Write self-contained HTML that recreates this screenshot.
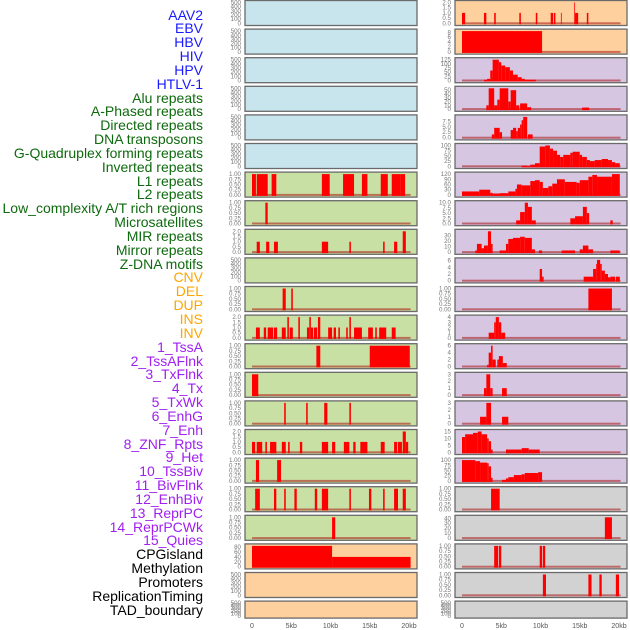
<!DOCTYPE html>
<html><head><meta charset="utf-8"><style>
body{margin:0;background:#fff;width:630px;height:630px;overflow:hidden;position:relative;font-family:"Liberation Sans",sans-serif}
.lab{position:absolute;right:427px;font-size:14px;line-height:14px;white-space:nowrap}
svg{position:absolute;left:0;top:0}
</style></head><body>
<div id="labels"></div>
<svg id="chart" width="630" height="630"></svg>
<script>
const trackLabels=["AAV2","EBV","HBV","HIV","HPV","HTLV-1","Alu repeats","A-Phased repeats","Directed repeats","DNA transposons","G-Quadruplex forming repeats","Inverted repeats","L1 repeats","L2 repeats","Low_complexity A/T rich regions","Microsatellites","MIR repeats","Mirror repeats","Z-DNA motifs","CNV","DEL","DUP","INS","INV","1_TssA","2_TssAFlnk","3_TxFlnk","4_Tx","5_TxWk","6_EnhG","7_Enh","8_ZNF_Rpts","9_Het","10_TssBiv","11_BivFlnk","12_EnhBiv","13_ReprPC","14_ReprPCWk","15_Quies","CPGisland","Methylation","Promoters","ReplicationTiming","TAD_boundary"];
const labelGroups=[6,13,5,15,5];
const xTicks=[0,5,10,15,20];
const xTickLabels=["0","5kb","10kb","15kb","20kb"];
const T500=["0","100","200","300","400","500"],T1=["0.00","0.25","0.50","0.75","1.00"],T2=["0.0","0.5","1.0","1.5","2.0"];
// left column series: [startKb,endKb,value]
const leftSeries=[[],[],[],[],[],[],
[[0,0.5,1],[0.6,2.0,1],[2.5,3.1,1],[8.9,9.9,1],[11.6,13.0,1],[14.0,14.7,1],[16.4,17.3,1],[17.8,18.9,1],[18.9,19.5,1]],
[[1.7,2.0,1]],
[[0.6,1.0,1],[1.8,2.2,1],[2.8,3.3,1],[8.9,9.7,1],[12.4,12.6,1],[16.7,16.9,1],[18.1,18.5,1],[19.2,19.6,2]],
[],
[[3.9,4.3,1],[5.0,5.2,1]],
[[0.5,1.0,1],[1.5,1.8,1],[2.0,2.7,1],[2.8,3.2,1],[3.8,4.3,1],[4.5,4.7,2],[4.8,5.2,1],[5.9,6.1,2],[7.0,7.3,1],[7.3,7.5,2],[7.5,7.8,1],[7.9,8.3,1],[8.4,8.7,2],[9.7,10.2,1],[10.4,10.7,1],[11.0,11.2,1],[12.0,12.2,1],[12.4,12.6,2],[13.0,14.0,1],[14.8,15.4,1],[15.7,15.9,1],[16.2,17.1,1],[17.8,18.3,1]],
[[8.2,8.7,1],[15.0,20.1,1]],
[[0,0.8,1]],
[[4.1,4.3,1],[6.9,7.1,1],[9.2,9.6,1],[12.4,12.6,1]],
[[0,0.4,1],[0.6,1.3,1],[1.7,1.9,1],[2.3,3.1,1],[3.8,4.3,1],[4.6,4.8,1],[6.1,6.4,1],[8.9,9.7,1],[10.2,10.6,1],[11.7,12.4,1],[12.9,13.2,1],[13.8,14.7,1],[16.4,16.9,1],[18.1,18.5,1],[18.6,19.1,1],[19.2,19.6,2],[19.6,19.9,1]],
[[0.5,0.9,1],[3.2,3.7,1]],
[[0.4,1.0,1],[2.8,3.1,1],[4.1,4.3,1],[5.4,5.7,1],[8.0,8.3,1],[8.9,9.7,1],[12.4,12.6,1],[14.9,15.2,1],[16.7,16.9,1],[18.1,18.6,1],[19.2,19.6,1]],
[[10.2,10.6,1]],
[[0,10.2,85],[10.2,20.2,40]],
[],[]];
const leftMax=[500,500,500,500,500,500,1,1,2,500,1,2,1,1,1,2,1,1,1,85,500,500];
const leftTicks=[T500,T500,T500,T500,T500,T500,T1,T1,T2,T500,T1,T2,T1,T1,T1,T2,T1,T1,T1,["0","20","40","60","80"],T500,T500];
const rightSeries=[
[[0,0.4,1],[2.8,3.1,1],[4.1,4.3,1],[7.3,7.5,1],[9.4,9.6,1],[11.3,11.6,1],[11.7,11.9,1],[12.6,12.7,1],[14.3,14.4,2],[14.4,14.8,1],[15.9,16.1,1]],
[[0,10.2,8.5]],
[[2.8,3.2,5],[3.2,3.6,10],[3.6,3.9,60],[3.9,4.7,125],[4.7,5.0,110],[5.0,5.5,90],[5.5,6.1,80],[6.1,6.5,60],[6.5,7.1,35],[7.1,7.6,20],[7.6,8.0,10],[8.0,9.4,5]],
[[3.1,3.4,10],[3.4,4.1,55],[4.1,4.5,10],[4.5,4.8,25],[4.8,5.9,55],[5.9,6.2,20],[6.2,6.9,50],[6.9,7.3,10],[7.4,8.3,15],[8.3,8.8,5],[15.3,16.2,4]],
[[3.8,4.1,1.5],[4.1,4.8,4.5],[4.8,5.1,2.5],[6.2,6.5,3.5],[6.5,6.9,4.5],[6.9,7.1,3],[7.1,7.4,4.5],[7.4,7.6,6],[7.6,7.8,8],[7.8,8.3,9.5],[8.4,9.0,1.5]],
[[7.6,8.3,3],[8.3,8.7,1],[8.7,9.3,8],[9.3,9.9,15],[9.9,10.6,95],[10.6,11.2,100],[11.2,11.6,85],[11.6,12.1,75],[12.1,12.5,55],[12.5,12.9,45],[12.9,13.8,55],[13.8,14.1,65],[14.1,15.0,70],[15.0,15.3,55],[15.3,15.9,45],[15.9,16.3,30],[16.3,16.9,25],[16.9,17.8,30],[17.8,18.6,35],[18.6,19.1,30],[19.1,19.5,20],[19.5,20.1,15]],
[[0,2.2,20],[2.2,3.6,30],[3.6,3.9,12],[3.9,4.8,8],[4.8,5.9,10],[5.9,6.8,20],[6.8,7.0,35],[7.0,7.6,60],[7.6,8.7,55],[8.7,9.3,80],[9.3,9.9,85],[9.9,10.3,75],[10.3,11.0,40],[11.0,11.5,50],[11.5,12.1,65],[12.1,13.1,90],[13.1,14.6,75],[14.6,15.0,70],[15.0,16.1,85],[16.1,16.6,105],[16.6,17.2,115],[17.2,19.1,105],[19.1,20.1,120]],
[[6.9,7.4,1.5],[7.4,8.0,5.5],[8.0,8.4,10],[8.4,8.9,8],[8.9,9.4,1.5],[13.8,14.4,2.5],[14.4,15.4,3.5],[15.4,15.9,8],[15.9,16.2,5],[18.9,19.2,1.5]],
[[1.7,1.9,3],[1.9,2.5,15],[2.5,2.8,7],[2.8,3.3,12],[3.3,3.7,38],[3.7,3.9,15],[4.8,5.6,3],[5.6,5.9,15],[5.9,6.5,24],[6.5,7.4,26],[7.4,8.0,28],[8.0,8.9,26],[8.9,9.3,5],[9.8,10.2,3],[12.7,14.4,3],[15.0,15.4,5],[15.4,16.1,12],[16.1,16.7,5],[18.9,20.1,3]],
[[9.9,10.2,3.5],[10.2,10.4,1.2],[15.5,16.7,1.2],[16.7,17.1,3.5],[17.1,17.2,5],[17.2,17.6,6.2],[17.6,17.8,5],[17.8,18.2,3],[18.2,18.6,2],[18.6,18.9,1],[18.9,19.5,1.2],[19.6,20.1,1.2]],
[[16.1,19.1,1]],
[[3.4,4.1,1],[4.1,4.3,3],[4.3,4.7,4],[4.7,5.0,3],[5.0,5.5,1]],
[[3.2,3.4,0.5],[3.4,3.7,4],[3.7,3.9,6],[3.9,4.3,2],[4.5,4.7,2],[4.7,5.2,3],[5.2,5.7,1]],
[[2.8,3.1,1],[3.1,3.6,3],[3.6,3.9,1],[5.1,5.7,1]],
[[2.3,3.1,1],[3.1,3.7,3],[5.1,5.9,1]],
[[0,0.4,11],[0.4,1.4,13],[1.4,2.0,14],[2.0,2.5,15],[2.5,3.2,13],[3.2,3.4,10],[3.4,3.7,8],[3.7,3.9,2],[5.6,7.6,2],[7.6,8.5,3],[8.5,9.9,2]],
[[0,1.7,100],[1.7,2.3,95],[2.3,3.2,88],[3.2,3.4,85],[3.4,3.7,70],[3.7,3.9,15],[5.1,5.6,5],[5.6,5.9,12],[5.9,6.6,18],[6.6,7.6,28],[7.6,8.0,32],[8.0,9.7,38],[9.7,10.2,42]],
[[3.7,4.8,1]],
[[18.2,19.1,42]],
[[4.1,4.6,1],[4.7,5.0,1],[9.9,10.2,1],[10.3,10.6,1]],
[[10.3,10.7,1],[16.1,16.5,1],[17.5,17.8,1],[19.6,20.0,1]],
[]];
const rightMax=[2,8.5,125,55,9.5,100,120,10,38,6.2,1,4,6,3,3,15,100,1,42,1,1,500];
const rightTicks=[T2,["0","2","4","6","8"],["0","25","50","75","100","125"],["0","10","20","30","40","50"],["0.0","2.5","5.0","7.5"],["0","25","50","75","100"],["0","30","60","90","120"],["0.0","2.5","5.0","7.5","10.0"],["0","10","20","30"],["0","2","4","6"],T1,["0","1","2","3","4"],["0","2","4","6"],["0","1","2","3"],["0","1","2","3"],["0","5","10","15"],["0","25","50","75","100"],T1,["0","10","20","30","40"],T1,T1,T500];
const leftBg=["#c8e4ec","#c8e4ec","#c8e4ec","#c8e4ec","#c8e4ec","#c8e4ec"].concat(Array(13).fill("#c9e0a4")).concat(["#fed09e","#fed09e","#fed09e"]);
const rightBg=["#fed09e","#fed09e"].concat(Array(15).fill("#d6c6e2")).concat(Array(5).fill("#d2d2d2"));

// labels
const lc=["#1a1aff","#0e6a0e","#ffa500","#a020f0","#000"];
const labDiv=document.getElementById('labels');
let gi=0,cnt=0;
trackLabels.forEach((t,i)=>{
  while(cnt>=labelGroups[gi]){gi++;cnt=0;}
  cnt++;
  const d=document.createElement('div');
  d.className='lab';d.textContent=t;d.style.color=lc[gi];
  d.style.top=(15+i*13.84-7.5)+'px';
  
  
  labDiv.appendChild(d);
});

const NS='http://www.w3.org/2000/svg';
const svg=document.getElementById('chart');
function el(tag,attrs,parent){const e=document.createElementNS(NS,tag);for(const k in attrs)e.setAttribute(k,attrs[k]);(parent||svg).appendChild(e);return e;}
function rowTop(i){return 0.5+i*28.6;}
function rowH(i){return i===21?17:25;}

function drawCol(px0,series,maxes,ticks,bgs,side){
  const xs=kb=>px0+7+kb*7.85;
  for(let i=0;i<22;i++){
    const top=rowTop(i),h=rowH(i);
    const g=el('g',{});
    
    
    el('rect',{x:px0,y:top,width:172,height:h,fill:bgs[i],stroke:'#6a6a6a','stroke-width':1.3},g);
    const y0=top+h-2.2, span=h-4.2;
    const ys=v=>y0-v/maxes[i]*span;
    ticks[i].forEach(t=>{
      const tx=el('text',{x:px0-4,y:ys(parseFloat(t))+2,'font-size':6.2,fill:'#777','text-anchor':'end','font-family':'Liberation Sans, sans-serif'},g);
      tx.textContent=t;
      
      
    });
    if(series[i].length){
      const b=el('rect',{x:xs(0),y:y0-1,width:xs(20.2)-xs(0),height:2,fill:'rgba(170,20,20,0.55)'},g);
      
      
    }
    series[i].forEach(s=>{
      const r=el('rect',{x:xs(s[0]),y:ys(s[2]),width:Math.max(0.8,xs(s[1])-xs(s[0])),height:y0-ys(s[2])+1,fill:'#ff0000'},g);
      
      
    });
  }
  xTicks.forEach((k,j)=>{
    const t=el('text',{x:xs(k),y:628,'font-size':7,fill:'#555','text-anchor':'middle','font-family':'Liberation Sans, sans-serif'});
    t.textContent=xTickLabels[j];
    
    
  });
}
drawCol(245,leftSeries,leftMax,leftTicks,leftBg,'left');
drawCol(455,rightSeries,rightMax,rightTicks,rightBg,'right');
</script>
</body></html>
